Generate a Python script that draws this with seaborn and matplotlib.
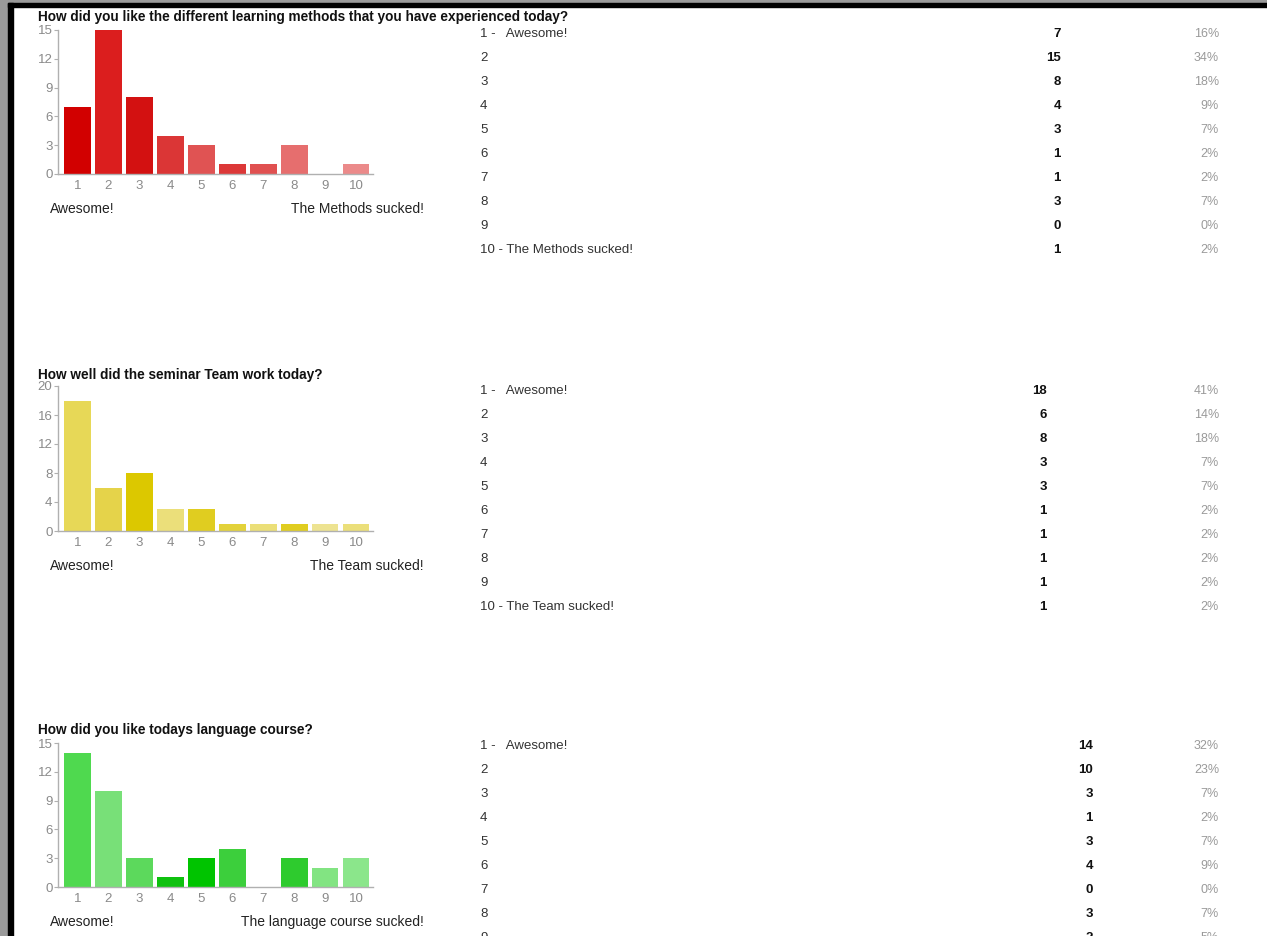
import numpy as np
import pandas as pd
import seaborn as sns
import matplotlib.pyplot as plt
from matplotlib.patches import Rectangle

# Survey answers (scale 1-10)
scale = ["1", "2", "3", "4", "5", "6", "7", "8", "9", "10"]

q1_title = "How did you like the different learning methods that you have experienced today?"
q1_counts = [7, 15, 8, 4, 3, 1, 1, 3, 0, 1]
q1_pct = ["16%", "34%", "18%", "9%", "7%", "2%", "2%", "7%", "0%", "2%"]
q1_low, q1_high = "Awesome!", "The Methods sucked!"
q1_yticks = [0, 3, 6, 9, 12, 15]
q1_colors = ["#d20000", "#db1e1e", "#d31111", "#db3636", "#e05353",
             "#dc3838", "#e05050", "#e66e6e", "#e98080", "#eb8a8a"]

q2_title = "How well did the seminar Team work today?"
q2_counts = [18, 6, 8, 3, 3, 1, 1, 1, 1, 1]
q2_pct = ["41%", "14%", "18%", "7%", "7%", "2%", "2%", "2%", "2%", "2%"]
q2_low, q2_high = "Awesome!", "The Team sucked!"
q2_yticks = [0, 4, 8, 12, 16, 20]
q2_colors = ["#e7d857", "#e5d34a", "#dcc800", "#ebdf7a", "#e0cd20",
             "#e3d23a", "#ebdf78", "#e0cd20", "#ede391", "#ebdf7a"]

q3_title = "How did you like todays language course?"
q3_counts = [14, 10, 3, 1, 3, 4, 0, 3, 2, 3]
q3_pct = ["32%", "23%", "7%", "2%", "7%", "9%", "0%", "7%", "5%", "7%"]
q3_low, q3_high = "Awesome!", "The language course sucked!"
q3_yticks = [0, 3, 6, 9, 12, 15]
q3_colors = ["#4fd94f", "#78e078", "#5cd95c", "#0fc10f", "#00c400",
             "#3ccf3c", "#66dd66", "#2ecb2e", "#82e482", "#8be68b"]

W, H = 1267, 936
plt.rcParams["font.family"] = ["Liberation Sans", "DejaVu Sans"]
fig = plt.figure(figsize=(W / 100, H / 100), dpi=100, facecolor="white")


def fx(px):
    return px / W


def fy(py):
    return 1 - py / H


# dark frame of the screenshot
fig.patches.append(Rectangle((0, 0), fx(8), 1, transform=fig.transFigure, color="#9a9a9a", zorder=0))
fig.patches.append(Rectangle((0, fy(3)), 1, 3 / H, transform=fig.transFigure, color="#9a9a9a", zorder=0))
fig.patches.append(Rectangle((fx(8), 0), fx(5), fy(3), transform=fig.transFigure, color="black", zorder=1))
fig.patches.append(Rectangle((fx(8), fy(7)), 1, 4 / H, transform=fig.transFigure, color="black", zorder=1))

blocks = [
    (q1_title, q1_counts, q1_pct, q1_low, q1_high, q1_yticks, q1_colors, 17, 30, 174, 34, 1061),
    (q2_title, q2_counts, q2_pct, q2_low, q2_high, q2_yticks, q2_colors, 375, 386, 531, 391, 1047),
    (q3_title, q3_counts, q3_pct, q3_low, q3_high, q3_yticks, q3_colors, 730, 743, 887, 746, 1093),
]

for title, counts, pct, low, high, yticks, colors, ty, top, bot, row0, cx in blocks:
    ax = fig.add_axes([fx(58), fy(bot), fx(373) - fx(58), (bot - top) / H])
    df = pd.DataFrame({"answer": scale, "count": counts})
    sns.barplot(data=df, x="answer", y="count", hue="answer", palette=colors,
                legend=False, ax=ax, width=0.87, saturation=1)
    ax.set_xlim(-0.63, 9.55)
    ax.set_ylim(0, yticks[-1])
    ax.set_yticks(yticks)
    ax.set_xlabel("")
    ax.set_ylabel("")
    for s in ["top", "right"]:
        ax.spines[s].set_visible(False)
    for s in ["left", "bottom"]:
        ax.spines[s].set_color("#b0b0b0")
        ax.spines[s].set_linewidth(1)
    ax.tick_params(axis="y", length=3, color="#b0b0b0", labelcolor="#8a8a8a", labelsize=9.5, pad=1)
    ax.tick_params(axis="x", length=0, labelcolor="#8a8a8a", labelsize=9.5, pad=4)
    ax.set_facecolor("white")

    fig.text(fx(38), fy(ty), title, fontsize=9.8, fontweight="bold", color="#111111", va="center")
    fig.text(fx(50), fy(bot + 35), low, fontsize=10, color="#222222", va="center")
    fig.text(fx(424), fy(bot + 35), high, fontsize=10, color="#222222", va="center", ha="right")

    for i in range(10):
        yy = row0 + 24 * i
        if yy > H + 6:
            break
        if i == 0:
            lab = "1 -   " + low
        elif i == 9:
            lab = "10 - " + high
        else:
            lab = scale[i]
        fig.text(fx(480), fy(yy), lab, fontsize=9.5, color="#333333", va="center")
        fig.text(fx(cx), fy(yy), str(counts[i]), fontsize=9.5, fontweight="bold", color="#111111",
                 va="center", ha="right")
        fig.text(fx(1219), fy(yy), pct[i], fontsize=9, color="#9a9a9a", va="center", ha="right")

fig.savefig("out.png", dpi=100, facecolor="white")
